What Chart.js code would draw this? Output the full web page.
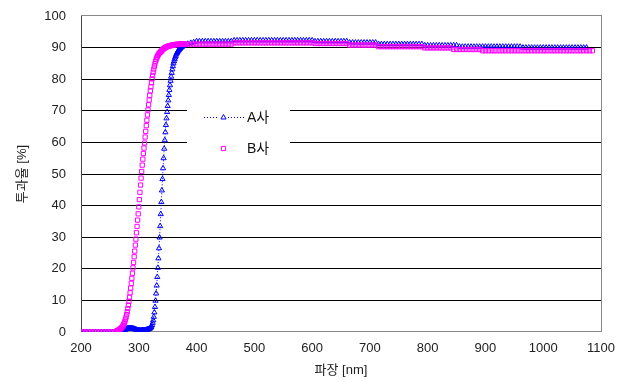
<!DOCTYPE html>
<html>
<head>
<meta charset="utf-8">
<script src="https://cdn.jsdelivr.net/npm/chart.js@4/dist/chart.umd.min.js"></script>
<style>
  body { margin: 0; background: #fff; }
  #chart { display: block; }
</style>
</head>
<body>
<canvas id="chart" width="624" height="382"></canvas>
<script>
// wavelength grid [nm], finer where the curves climb
const wavelengths = [
    200, 205, 210, 215, 220, 225, 230, 235, 240, 245, 250, 255, 260,
    261, 262, 263, 264, 265, 266, 267, 268, 269, 270,
    271, 272, 273, 274, 275, 276, 277, 278, 279, 280,
    281, 282, 283, 284, 285, 286, 287, 288, 289, 290,
    291, 292, 293, 294, 295, 296, 297, 298, 299, 300,
    301, 302, 303, 304, 305, 306, 307, 308, 309, 310,
    311, 312, 313, 314, 315, 316, 317, 318, 319, 320,
    321, 322, 323, 324, 325, 326, 327, 328, 329, 330,
    331, 332, 333, 334, 335, 336, 337, 338, 339, 340,
    341, 342, 343, 344, 345, 346, 347, 348, 349, 350,
    351, 352, 353, 354, 355, 356, 357, 358, 359, 360,
    361, 362, 363, 364, 365, 366, 367, 368, 369, 370,
    371, 372, 373, 374, 375, 376, 377, 378, 379, 380,
    385, 390, 395, 400, 405, 410, 415, 420, 425, 430, 435, 440, 445, 450, 455, 460, 465, 470, 475, 480,
    485, 490, 495, 500, 505, 510, 515, 520, 525, 530, 535, 540, 545, 550, 555, 560, 565, 570, 575, 580,
    585, 590, 595, 600, 605, 610, 615, 620, 625, 630, 635, 640, 645, 650, 655, 660, 665, 670, 675, 680,
    685, 690, 695, 700, 705, 710, 715, 720, 725, 730, 735, 740, 745, 750, 755, 760, 765, 770, 775, 780,
    785, 790, 795, 800, 805, 810, 815, 820, 825, 830, 835, 840, 845, 850, 855, 860, 865, 870, 875, 880,
    885, 890, 895, 900, 905, 910, 915, 920, 925, 930, 935, 940, 945, 950, 955, 960, 965, 970, 975, 980,
    985, 990, 995, 1000, 1005, 1010, 1015, 1020, 1025, 1030, 1035, 1040, 1045, 1050, 1055, 1060, 1065, 1070, 1075, 1080,
    1085
];

// A사 transmittance [%]
const transA = [
    0, 0, 0, 0, 0, 0, 0, 0, 0, 0, 0, 0, 0,
    0.1, 0.1, 0.1, 0.2, 0.2, 0.2, 0.2, 0.3, 0.3, 0.3,
    0.4, 0.4, 0.5, 0.5, 0.6, 0.7, 0.8, 0.9, 1.0, 1.1,
    1.1, 1.2, 1.2, 1.1, 1.2, 1.2, 1.1, 1.1, 1.2, 1.1,
    1.0, 1.0, 0.9, 0.8, 0.8, 0.7, 0.6, 0.6, 0.5, 0.5,
    0.5, 0.5, 0.4, 0.5, 0.5, 0.5, 0.6, 0.5, 0.6, 0.6,
    0.6, 0.6, 0.7, 0.7, 0.8, 0.8, 0.9, 1.0, 1.1, 1.2,
    1.4, 1.7, 2.2, 2.9, 3.7, 4.8, 6.2, 7.9, 9.9, 12.2,
    14.7, 17.4, 20.3, 23.3, 26.5, 29.9, 33.5, 37.3, 41.1, 44.8,
    48.4, 51.8, 55.0, 58.0, 60.7, 63.2, 65.5, 67.6, 69.6, 71.5,
    73.3, 75.0, 76.6, 78.1, 79.5, 80.8, 82.0, 83.1, 84.1, 85.0,
    85.7, 86.3, 86.9, 87.4, 87.9, 88.3, 88.6, 88.9, 89.2, 89.4,
    89.6, 89.8, 90.0, 90.2, 90.3, 90.5, 90.6, 90.7, 90.8, 90.9,
    91.2, 91.5, 91.7, 92.0, 92.0, 92.0, 92.0, 92.0, 92.0, 92.0, 92.0, 92.0, 92.0, 92.0, 92.0, 92.0, 92.3, 92.3, 92.3, 92.3,
    92.3, 92.3, 92.3, 92.3, 92.3, 92.3, 92.3, 92.3, 92.3, 92.3, 92.3, 92.3, 92.3, 92.3, 92.3, 92.3, 92.3, 92.3, 92.3, 92.3,
    92.3, 92.3, 92.3, 92.3, 92.0, 92.0, 92.0, 92.0, 92.0, 92.0, 92.0, 92.0, 92.0, 92.0, 92.0, 92.0, 91.6, 91.6, 91.6, 91.6,
    91.6, 91.6, 91.6, 91.6, 91.6, 91.6, 91.1, 91.1, 91.1, 91.1, 91.1, 91.1, 91.1, 91.1, 91.1, 91.1, 91.1, 91.1, 91.1, 91.1,
    91.1, 91.1, 90.7, 90.7, 90.7, 90.7, 90.7, 90.7, 90.7, 90.7, 90.7, 90.7, 90.7, 90.7, 90.3, 90.3, 90.3, 90.3, 90.3, 90.3,
    90.3, 90.3, 90.3, 90.3, 90.3, 90.3, 90.3, 90.3, 90.3, 90.3, 90.3, 90.3, 90.3, 90.3, 90.3, 90.3, 90.0, 90.0,
    90.0, 90.0, 90.0, 90.0, 90.0, 90.0, 90.0, 90.0, 90.0, 90.0, 90.0, 90.0, 90.0, 90.0, 90.0, 90.0, 90.0, 90.0, 90.0, 90.0,
    90.0
];

// B사 transmittance [%]
const transB = [
    0, 0, 0, 0, 0, 0, 0, 0, 0, 0, 0, 0, 0.1,
    0.2, 0.3, 0.4, 0.5, 0.6, 0.7, 0.8, 1.0, 1.1, 1.3,
    1.5, 1.8, 2.1, 2.5, 2.9, 3.4, 4.0, 4.7, 5.5, 6.4,
    7.4, 8.5, 9.7, 11.0, 12.4, 13.9, 15.4, 17.0, 18.6, 20.3,
    22.0, 23.8, 25.6, 27.5, 29.4, 31.4, 33.4, 35.4, 37.4, 39.6,
    41.9, 44.2, 46.5, 48.7, 50.8, 52.8, 54.7, 56.5, 58.2, 59.8,
    61.7, 63.5, 65.3, 67.0, 68.7, 70.3, 71.9, 73.4, 74.9, 76.3,
    77.6, 78.9, 80.1, 81.2, 82.2, 83.2, 84.1, 84.9, 85.6, 86.2,
    86.7, 87.1, 87.5, 87.8, 88.1, 88.3, 88.5, 88.7, 88.9, 89.1,
    89.3, 89.5, 89.6, 89.8, 89.9, 90.0, 90.1, 90.2, 90.3, 90.4,
    90.4, 90.5, 90.5, 90.6, 90.6, 90.7, 90.7, 90.8, 90.8, 90.9,
    90.9, 90.9, 90.9, 91.0, 91.0, 91.0, 91.0, 91.0, 91.0, 91.1,
    91.1, 91.1, 91.1, 91.1, 91.1, 91.1, 91.1, 91.1, 91.1, 91.1,
    91.1, 91.1, 91.1, 91.1, 91.1, 91.1, 91.1, 91.1, 91.1, 91.1, 91.1, 91.1, 91.1, 91.1, 91.1, 91.1, 91.5, 91.5, 91.5, 91.5,
    91.5, 91.5, 91.5, 91.5, 91.5, 91.5, 91.5, 91.5, 91.5, 91.5, 91.5, 91.5, 91.5, 91.5, 91.5, 91.5, 91.5, 91.5, 91.5, 91.5,
    91.5, 91.5, 91.5, 91.5, 91.3, 91.3, 91.3, 91.3, 91.3, 91.3, 91.3, 91.3, 91.3, 91.3, 91.3, 91.3, 90.8, 90.8, 90.8, 90.8,
    90.8, 90.8, 90.8, 90.8, 90.8, 90.8, 90.3, 90.3, 90.3, 90.3, 90.3, 90.3, 90.3, 90.3, 90.3, 90.3, 90.3, 90.3, 90.3, 90.3,
    90.3, 90.3, 89.9, 89.9, 89.9, 89.9, 89.9, 89.9, 89.9, 89.9, 89.9, 89.9, 89.4, 89.4, 89.4, 89.4, 89.4, 89.4, 89.4, 89.4,
    89.4, 89.4, 89.0, 89.0, 89.0, 89.0, 89.0, 89.0, 89.0, 89.0, 89.0, 89.0, 89.0, 89.0, 89.0, 89.0, 89.0, 89.0, 89.0, 89.0,
    89.0, 89.0, 89.0, 89.0, 89.0, 89.0, 89.0, 89.0, 89.0, 89.0, 89.0, 89.0, 89.0, 89.0, 89.0, 89.0, 89.0, 89.0, 89.0, 89.0,
    89.0
];

const seriesNames = ['A사', 'B사'];
const xTicks = [200, 300, 400, 500, 600, 700, 800, 900, 1000, 1100];
const yTicks = [0, 10, 20, 30, 40, 50, 60, 70, 80, 90, 100];

const BLUE = '#0000ff';
const MAGENTA = '#ff00ff';
const FONT = "'Liberation Sans', 'Noto Sans CJK KR', sans-serif";

const pointsA = wavelengths.map((w, i) => ({ x: w, y: transA[i] }));
const pointsB = wavelengths.map((w, i) => ({ x: w, y: transB[i] }));

// gray frame under the data, legend box on top
const frameLegend = {
    id: 'frameLegend',
    beforeDatasetsDraw(chart) {
        const { ctx, chartArea: a } = chart;
        ctx.save();
        ctx.strokeStyle = '#888';
        ctx.lineWidth = 1;
        ctx.strokeRect(Math.round(a.left) + 0.5, Math.round(a.top) - 0.5, Math.round(a.right - a.left), Math.round(a.bottom - a.top));
        ctx.strokeStyle = '#444';
        ctx.beginPath();
        ctx.moveTo(Math.round(a.left) + 0.5, a.top);
        ctx.lineTo(Math.round(a.left) + 0.5, a.bottom);
        ctx.stroke();
        ctx.restore();
    },
    afterDatasetsDraw(chart) {
        const ctx = chart.ctx;
        ctx.save();
        ctx.fillStyle = '#fff';
        ctx.fillRect(187, 96, 103, 66);

        // A row: dotted line + triangle
        ctx.strokeStyle = BLUE;
        ctx.lineWidth = 1;
        ctx.setLineDash([1, 2]);
        ctx.beginPath();
        ctx.moveTo(204, 117.5);
        ctx.lineTo(244, 117.5);
        ctx.stroke();
        ctx.setLineDash([]);
        ctx.fillStyle = '#fff';
        ctx.fillRect(219, 113, 9, 8);
        Chart.helpers.drawPoint(ctx, { pointStyle: 'triangle', radius: 3, borderWidth: 1 }, 223.5, 117.5);

        // B row: square only
        ctx.strokeStyle = MAGENTA;
        Chart.helpers.drawPoint(ctx, { pointStyle: 'rect', radius: 3, borderWidth: 1 }, 223.5, 148.5);

        ctx.fillStyle = '#111';
        ctx.font = '14px ' + FONT;
        ctx.textBaseline = 'middle';
        ctx.fillText(seriesNames[0], 247, 118);
        ctx.fillText(seriesNames[1], 247, 149);
        ctx.restore();
    }
};

new Chart(document.getElementById('chart'), {
    type: 'scatter',
    data: {
        datasets: [
            {
                label: seriesNames[0],
                data: pointsA,
                order: 2,
                showLine: true,
                borderColor: BLUE,
                borderWidth: 1,
                borderDash: [1, 2],
                pointStyle: 'triangle',
                pointRadius: 3,
                pointBorderWidth: 1,
                pointBorderColor: BLUE,
                pointBackgroundColor: 'rgba(0,0,0,0)'
            },
            {
                label: seriesNames[1],
                data: pointsB,
                order: 1,
                showLine: false,
                pointStyle: 'rect',
                pointRadius: 3,
                pointBorderWidth: 1,
                pointBorderColor: MAGENTA,
                pointBackgroundColor: 'rgba(0,0,0,0)'
            }
        ]
    },
    options: {
        responsive: false,
        animation: false,
        events: [],
        layout: { padding: { top: 16, right: 23, bottom: 0, left: 0 } },
        plugins: {
            legend: { display: false },
            tooltip: { enabled: false }
        },
        scales: {
            x: {
                type: 'linear',
                min: 200,
                max: 1100,
                afterFit: (s) => { s.height = 50; s.paddingLeft = 0; s.paddingRight = 0; },
                afterBuildTicks: (s) => { s.ticks = xTicks.map(v => ({ value: v })); },
                grid: { display: false, drawTicks: false },
                border: { display: false },
                ticks: {
                    padding: 9,
                    color: '#222',
                    font: { family: FONT, size: 13 },
                    callback: (v) => String(v)
                },
                title: {
                    display: true,
                    text: '파장 [nm]',
                    color: '#222',
                    font: { family: FONT, size: 13 },
                    padding: { top: 0, bottom: 4 }
                }
            },
            y: {
                min: 0,
                max: 100,
                afterFit: (s) => { s.width = 81; s.paddingTop = 0; s.paddingBottom = 0; },
                afterBuildTicks: (s) => { s.ticks = yTicks.map(v => ({ value: v })); },
                grid: {
                    drawTicks: false,
                    color: (c) => (c.tick && (c.tick.value === 0 || c.tick.value === 100)) ? 'rgba(0,0,0,0)' : '#000'
                },
                border: { display: false },
                ticks: { padding: 15, color: '#222', font: { family: FONT, size: 13 } },
                title: {
                    display: true,
                    text: '투과율 [%]',
                    color: '#222',
                    font: { family: FONT, size: 13 },
                    padding: { top: 15, bottom: 0 }
                }
            }
        }
    },
    plugins: [frameLegend]
});
</script>
</body>
</html>
